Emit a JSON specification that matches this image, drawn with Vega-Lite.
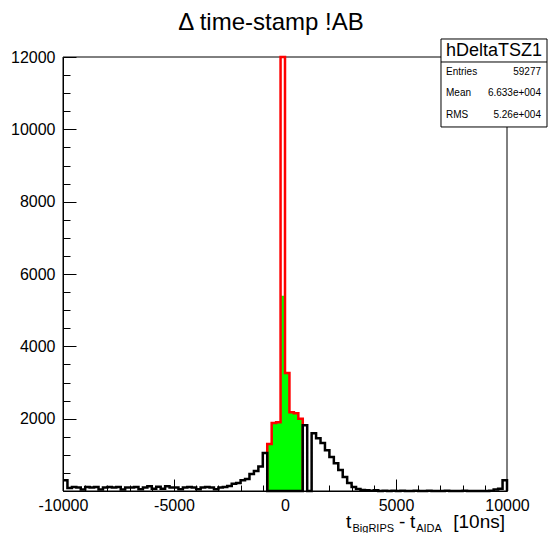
{
  "$schema": "https://vega.github.io/schema/vega-lite/v6.json",
  "width": 444,
  "height": 434,
  "autosize": "none",
  "padding": {"left": 63, "top": 57, "right": 41, "bottom": 42},
  "background": "white",
  "config": {"view": {"stroke": null}, "font": "Liberation Sans", "text": {"font": "Liberation Sans", "color": "black"}},
  "datasets": {
    "hist": [
      {"x":-10000,"s":"black","n":300},{"x":-9800,"s":"black","n":80},{"x":-9600,"s":"black","n":110},{"x":-9400,"s":"black","n":100},{"x":-9200,"s":"black","n":40},
      {"x":-9000,"s":"black","n":110},{"x":-8800,"s":"black","n":100},{"x":-8600,"s":"black","n":110},{"x":-8400,"s":"black","n":40},{"x":-8200,"s":"black","n":100},
      {"x":-8000,"s":"black","n":110},{"x":-7800,"s":"black","n":100},{"x":-7600,"s":"black","n":110},{"x":-7400,"s":"black","n":40},{"x":-7200,"s":"black","n":100},
      {"x":-7000,"s":"black","n":100},{"x":-6800,"s":"black","n":110},{"x":-6600,"s":"black","n":50},{"x":-6400,"s":"black","n":100},{"x":-6200,"s":"black","n":130},
      {"x":-6000,"s":"black","n":60},{"x":-5800,"s":"black","n":120},{"x":-5600,"s":"black","n":60},{"x":-5400,"s":"black","n":130},{"x":-5200,"s":"black","n":100},
      {"x":-5000,"s":"black","n":100},{"x":-4800,"s":"black","n":50},{"x":-4600,"s":"black","n":100},{"x":-4400,"s":"black","n":110},{"x":-4200,"s":"black","n":100},
      {"x":-4000,"s":"black","n":50},{"x":-3800,"s":"black","n":100},{"x":-3600,"s":"black","n":110},{"x":-3400,"s":"black","n":100},{"x":-3200,"s":"black","n":50},
      {"x":-3000,"s":"black","n":100},{"x":-2800,"s":"black","n":110},{"x":-2600,"s":"black","n":140},{"x":-2400,"s":"black","n":200},{"x":-2200,"s":"black","n":220},
      {"x":-2000,"s":"black","n":300},{"x":-1800,"s":"black","n":330},{"x":-1600,"s":"black","n":470},{"x":-1400,"s":"black","n":550},{"x":-1200,"s":"black","n":680},
      {"x":-1000,"s":"black","n":1050},{"x":-800,"s":"black","n":0},{"x":-600,"s":"black","n":0},{"x":-400,"s":"black","n":0},{"x":-200,"s":"black","n":0},
      {"x":0,"s":"black","n":0},{"x":200,"s":"black","n":0},{"x":400,"s":"black","n":0},{"x":600,"s":"black","n":0},{"x":800,"s":"black","n":1820},
      {"x":1000,"s":"black","n":0},{"x":1200,"s":"black","n":1600},{"x":1400,"s":"black","n":1460},{"x":1600,"s":"black","n":1330},{"x":1800,"s":"black","n":1130},
      {"x":2000,"s":"black","n":940},{"x":2200,"s":"black","n":770},{"x":2400,"s":"black","n":580},{"x":2600,"s":"black","n":390},{"x":2800,"s":"black","n":220},
      {"x":3000,"s":"black","n":110},{"x":3200,"s":"black","n":55},{"x":3400,"s":"black","n":30},{"x":3600,"s":"black","n":20},{"x":3800,"s":"black","n":10},
      {"x":4000,"s":"black","n":20},{"x":4200,"s":"black","n":0},{"x":4400,"s":"black","n":10},{"x":4600,"s":"black","n":0},{"x":4800,"s":"black","n":10},
      {"x":5000,"s":"black","n":0},{"x":5200,"s":"black","n":10},{"x":5400,"s":"black","n":0},{"x":5600,"s":"black","n":0},{"x":5800,"s":"black","n":10},
      {"x":6000,"s":"black","n":0},{"x":6200,"s":"black","n":0},{"x":6400,"s":"black","n":10},{"x":6600,"s":"black","n":0},{"x":6800,"s":"black","n":0},
      {"x":7000,"s":"black","n":0},{"x":7200,"s":"black","n":10},{"x":7400,"s":"black","n":0},{"x":7600,"s":"black","n":0},{"x":7800,"s":"black","n":0},
      {"x":8000,"s":"black","n":10},{"x":8200,"s":"black","n":0},{"x":8400,"s":"black","n":0},{"x":8600,"s":"black","n":0},{"x":8800,"s":"black","n":0},
      {"x":9000,"s":"black","n":0},{"x":9200,"s":"black","n":10},{"x":9400,"s":"black","n":40},{"x":9600,"s":"black","n":60},{"x":9800,"s":"black","n":300},
      {"x":10000,"s":"black","n":0},
      {"x":-800,"s":"red","n":0,"i":0},{"x":-800,"s":"red","n":1300,"i":1},{"x":-600,"s":"red","n":1880,"i":2},{"x":-400,"s":"red","n":1900,"i":3},{"x":-200,"s":"red","n":12000,"i":4},
      {"x":0,"s":"red","n":3260,"i":5},{"x":200,"s":"red","n":2180,"i":6},{"x":400,"s":"red","n":2150,"i":7},{"x":600,"s":"red","n":2000,"i":8},{"x":800,"s":"red","n":0,"i":9},
      {"x":-800,"s":"green","n":1300},{"x":-600,"s":"green","n":1880},{"x":-400,"s":"green","n":1900},{"x":-200,"s":"green","n":5400},
      {"x":0,"s":"green","n":3260},{"x":200,"s":"green","n":2180},{"x":400,"s":"green","n":2150},{"x":600,"s":"green","n":2000},{"x":800,"s":"green","n":0}
    ]
  },
  "layer": [
    {
      "data": {"values": [{}]},
      "mark": {"type": "rect", "fill": null, "stroke": "black", "strokeWidth": 1},
      "encoding": {
        "x": {"datum": -10000, "type": "quantitative", "scale": {"domain": [-10000, 10000], "nice": false, "zero": false}, "axis": null},
        "x2": {"datum": 10000},
        "y": {"datum": 0, "type": "quantitative", "scale": {"domain": [0, 12000], "nice": false, "zero": false}, "axis": null},
        "y2": {"datum": 12000}
      }
    },
    {
      "data": {"name": "hist"},
      "transform": [{"filter": "datum.s === 'green'"}],
      "mark": {"type": "area", "interpolate": "step-after", "color": "#00ff00", "opacity": 1},
      "encoding": {
        "x": {"field": "x", "type": "quantitative", "scale": {"domain": [-10000, 10000], "nice": false, "zero": false},
              "axis": {"values": [-10000, -5000, 0, 5000, 10000], "labelExpr": "toString(datum.value)", "tickSize": -12, "labelPadding": 18, "labelFontSize": 16, "labelFont": "Liberation Sans", "labelColor": "black", "domainColor": "black", "domainWidth": 1, "tickColor": "black", "tickWidth": 1, "grid": false, "title": null, "labelFlush": false, "labelOverlap": false, "orient": "bottom"}},
        "y": {"field": "n", "type": "quantitative", "scale": {"domain": [0, 12000], "nice": false, "zero": false},
              "axis": {"values": [2000, 4000, 6000, 8000, 10000, 12000], "labelExpr": "toString(datum.value)", "tickSize": -13, "labelPadding": 21, "labelFontSize": 16, "labelFont": "Liberation Sans", "labelColor": "black", "domainColor": "black", "domainWidth": 1, "tickColor": "black", "tickWidth": 1, "grid": false, "title": null, "labelFlush": false, "labelOverlap": false, "orient": "left"}}
      }
    },
    {
      "data": {"name": "hist"},
      "transform": [{"filter": "datum.s === 'red'"}],
      "mark": {"type": "line", "interpolate": "step-after", "color": "#ff0000", "strokeWidth": 2.5},
      "encoding": {
        "x": {"field": "x", "type": "quantitative",
              "axis": {"values": [-9000, -8000, -7000, -6000, -4000, -3000, -2000, -1000, 1000, 2000, 3000, 4000, 6000, 7000, 8000, 9000], "labels": false, "domain": false, "tickSize": -6, "tickColor": "black", "tickWidth": 1, "grid": false, "title": null, "orient": "bottom"}},
        "y": {"field": "n", "type": "quantitative",
              "axis": {"values": [500, 1000, 1500, 2500, 3000, 3500, 4500, 5000, 5500, 6500, 7000, 7500, 8500, 9000, 9500, 10500, 11000, 11500], "labels": false, "domain": false, "tickSize": -7, "tickColor": "black", "tickWidth": 1, "grid": false, "title": null, "orient": "left"}},
        "order": {"field": "i", "type": "quantitative"}
      }
    },
    {
      "data": {"name": "hist"},
      "transform": [{"filter": "datum.s === 'black'"}],
      "mark": {"type": "line", "interpolate": "step-after", "color": "black", "strokeWidth": 2.5},
      "encoding": {
        "x": {"field": "x", "type": "quantitative", "axis": null},
        "y": {"field": "n", "type": "quantitative", "axis": null}
      }
    },
    {
      "data": {"values": [{"title": "Δ time-stamp !AB"}]},
      "mark": {"type": "text", "fontSize": 24, "align": "center", "baseline": "alphabetic"},
      "encoding": {
        "x": {"datum": -631, "type": "quantitative", "axis": null},
        "y": {"datum": 12746, "type": "quantitative", "axis": null},
        "text": {"field": "title"}
      }
    },
    {
      "data": {"values": [{"name": "hDeltaTSZ1"}]},
      "layer": [
        {
          "mark": {"type": "rect", "fill": "white", "stroke": "black", "strokeWidth": 1},
          "encoding": {
            "x": {"datum": 7027, "type": "quantitative", "axis": null}, "x2": {"datum": 11802},
            "y": {"datum": 12498, "type": "quantitative", "axis": null}, "y2": {"datum": 10065}
          }
        },
        {
          "mark": {"type": "rule", "color": "black", "strokeWidth": 1},
          "encoding": {
            "x": {"datum": 7027, "type": "quantitative", "axis": null}, "x2": {"datum": 11802},
            "y": {"datum": 11862, "type": "quantitative", "axis": null}
          }
        },
        {
          "mark": {"type": "text", "fontSize": 18, "align": "center", "baseline": "middle"},
          "encoding": {
            "x": {"datum": 9414, "type": "quantitative", "axis": null},
            "y": {"datum": 12166, "type": "quantitative", "axis": null},
            "text": {"field": "name"}
          }
        }
      ]
    },
    {
      "data": {"values": [{"stat": "Entries", "value": "59277"}]},
      "layer": [
        {"mark": {"type": "text", "fontSize": 10, "align": "left", "baseline": "middle"},
         "encoding": {"x": {"datum": 7253, "type": "quantitative", "axis": null}, "y": {"datum": 11585, "type": "quantitative", "axis": null}, "text": {"field": "stat"}}},
        {"mark": {"type": "text", "fontSize": 10, "align": "right", "baseline": "middle"},
         "encoding": {"x": {"datum": 11532, "type": "quantitative", "axis": null}, "y": {"datum": 11585, "type": "quantitative", "axis": null}, "text": {"field": "value"}}}
      ]
    },
    {
      "data": {"values": [{"stat": "Mean", "value": "6.633e+004"}]},
      "layer": [
        {"mark": {"type": "text", "fontSize": 10, "align": "left", "baseline": "middle"},
         "encoding": {"x": {"datum": 7253, "type": "quantitative", "axis": null}, "y": {"datum": 11004, "type": "quantitative", "axis": null}, "text": {"field": "stat"}}},
        {"mark": {"type": "text", "fontSize": 10, "align": "right", "baseline": "middle"},
         "encoding": {"x": {"datum": 11532, "type": "quantitative", "axis": null}, "y": {"datum": 11004, "type": "quantitative", "axis": null}, "text": {"field": "value"}}}
      ]
    },
    {
      "data": {"values": [{"stat": "RMS", "value": "5.26e+004"}]},
      "layer": [
        {"mark": {"type": "text", "fontSize": 10, "align": "left", "baseline": "middle"},
         "encoding": {"x": {"datum": 7253, "type": "quantitative", "axis": null}, "y": {"datum": 10396, "type": "quantitative", "axis": null}, "text": {"field": "stat"}}},
        {"mark": {"type": "text", "fontSize": 10, "align": "right", "baseline": "middle"},
         "encoding": {"x": {"datum": 11532, "type": "quantitative", "axis": null}, "y": {"datum": 10396, "type": "quantitative", "axis": null}, "text": {"field": "value"}}}
      ]
    },
    {
      "data": {"values": [{"t1": "t", "sub1": "BigRIPS", "dash": "-", "t2": "t", "sub2": "AIDA", "t3": "[10ns]"}]},
      "layer": [
        {"mark": {"type": "text", "fontSize": 19, "align": "left", "baseline": "alphabetic"},
         "encoding": {"x": {"datum": 2748, "type": "quantitative", "axis": null}, "y": {"datum": -1030, "type": "quantitative", "axis": null}, "text": {"field": "t1"}}},
        {"mark": {"type": "text", "fontSize": 11, "align": "left", "baseline": "alphabetic"},
         "encoding": {"x": {"datum": 3040, "type": "quantitative", "axis": null}, "y": {"datum": -1120, "type": "quantitative", "axis": null}, "text": {"field": "sub1"}}},
        {"mark": {"type": "text", "fontSize": 19, "align": "left", "baseline": "alphabetic"},
         "encoding": {"x": {"datum": 5135, "type": "quantitative", "axis": null}, "y": {"datum": -1030, "type": "quantitative", "axis": null}, "text": {"field": "dash"}}},
        {"mark": {"type": "text", "fontSize": 19, "align": "left", "baseline": "alphabetic"},
         "encoding": {"x": {"datum": 5631, "type": "quantitative", "axis": null}, "y": {"datum": -1030, "type": "quantitative", "axis": null}, "text": {"field": "t2"}}},
        {"mark": {"type": "text", "fontSize": 11, "align": "left", "baseline": "alphabetic"},
         "encoding": {"x": {"datum": 5910, "type": "quantitative", "axis": null}, "y": {"datum": -1120, "type": "quantitative", "axis": null}, "text": {"field": "sub2"}}},
        {"mark": {"type": "text", "fontSize": 19, "align": "right", "baseline": "alphabetic"},
         "encoding": {"x": {"datum": 9910, "type": "quantitative", "axis": null}, "y": {"datum": -1030, "type": "quantitative", "axis": null}, "text": {"field": "t3"}}}
      ]
    }
  ],
  "resolve": {"axis": {"x": "independent", "y": "independent"}}
}
